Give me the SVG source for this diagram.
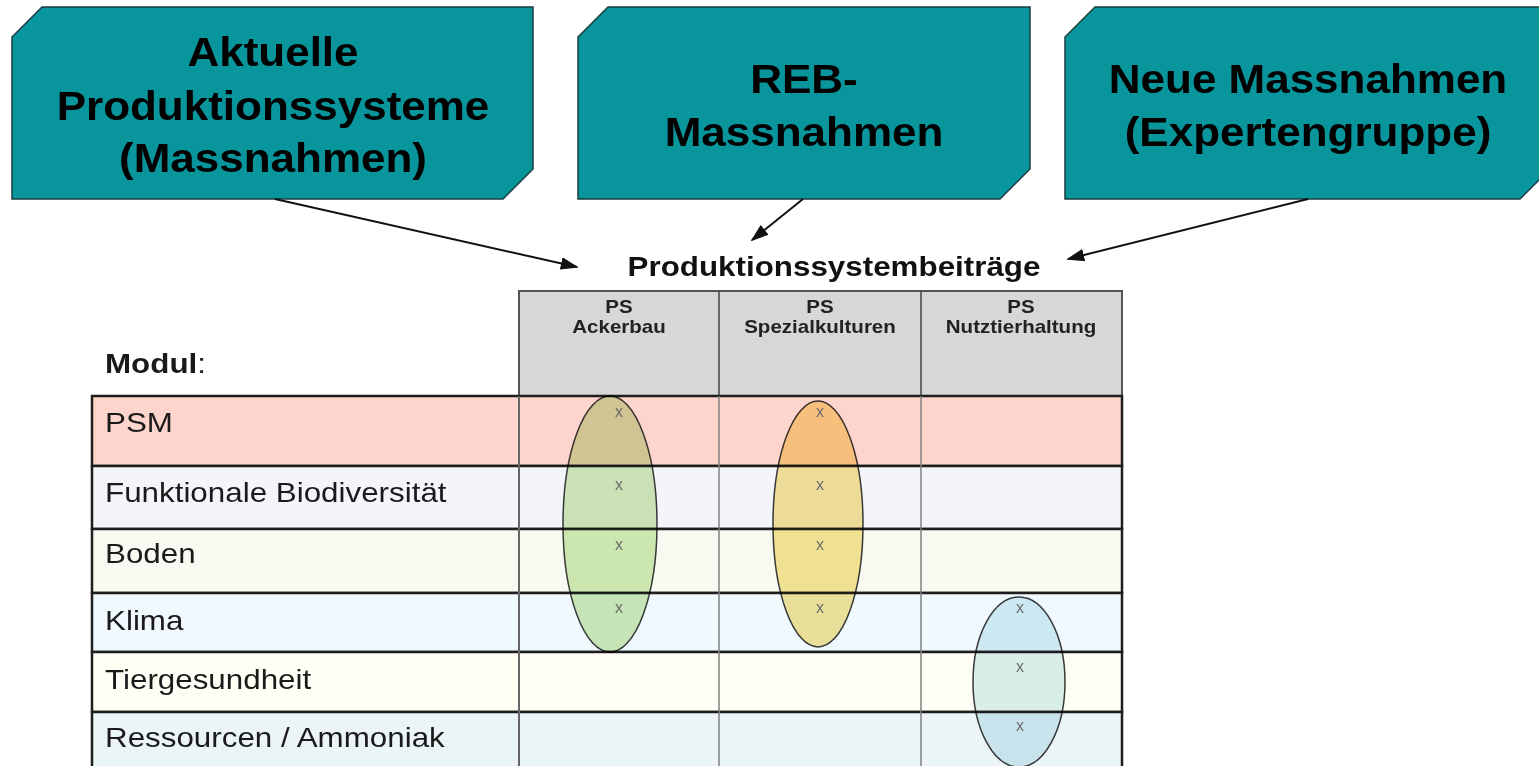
<svg xmlns="http://www.w3.org/2000/svg" width="1539" height="766" viewBox="0 0 1539 766">
<defs>
<style>
.box{fill:#08959C;stroke:#1b3d3e;stroke-width:1.5}
.bt{font-family:"Liberation Sans",Arial,sans-serif;font-weight:bold;font-size:40px;fill:#000;text-anchor:middle}
.ttl{font-family:"Liberation Sans",Arial,sans-serif;font-weight:bold;font-size:28px;fill:#111;text-anchor:middle}
.hd{font-family:"Liberation Sans",Arial,sans-serif;font-weight:bold;font-size:18px;fill:#222;text-anchor:middle}
.lbl{font-family:"Liberation Sans",Arial,sans-serif;font-size:28px;fill:#1a1a1a}
.xm{font-family:"Liberation Sans",Arial,sans-serif;font-size:16px;fill:#6b6b6b;text-anchor:middle}
.row{stroke:#1e1e1e;stroke-width:2.5}
.col{stroke:#808080;stroke-width:1.5}
.ell{stroke:#3a3a3a;stroke-width:1.5;mix-blend-mode:multiply}
.conn{stroke:#111;stroke-width:2;fill:none}
</style>
<marker id="ah" viewBox="0 0 10 7" refX="9" refY="3.5" markerWidth="9" markerHeight="6.3" orient="auto" markerUnits="strokeWidth">
<path d="M0,0 L10,3.5 L0,7 z" fill="#111"/>
</marker>
</defs>
<rect width="1539" height="766" fill="#fff"/>

<g id="node-aktuelle">
<polygon class="box" points="42,7 533,7 533,169 503,199 12,199 12,37"/>
<text class="bt" transform="translate(273,66) scale(1.1,1)">Aktuelle</text>
<text class="bt" transform="translate(273,120) scale(1.1,1)">Produktionssysteme</text>
<text class="bt" transform="translate(273,172) scale(1.1,1)">(Massnahmen)</text>
</g>
<g id="node-reb">
<polygon class="box" points="608,7 1030,7 1030,169 1000,199 578,199 578,37"/>
<text class="bt" transform="translate(804,93) scale(1.1,1)">REB-</text>
<text class="bt" transform="translate(804,146) scale(1.1,1)">Massnahmen</text>
</g>
<g id="node-neue">
<polygon class="box" points="1095,7 1550,7 1550,169 1520,199 1065,199 1065,37"/>
<text class="bt" transform="translate(1308,93) scale(1.1,1)">Neue Massnahmen</text>
<text class="bt" transform="translate(1308,146) scale(1.1,1)">(Expertengruppe)</text>
</g>

<g id="connectors">
<line class="conn" x1="275" y1="199" x2="577" y2="267" marker-end="url(#ah)"/>
<line class="conn" x1="803" y1="199" x2="752" y2="240" marker-end="url(#ah)"/>
<line class="conn" x1="1308" y1="199" x2="1068" y2="259" marker-end="url(#ah)"/>
</g>

<g id="title">
<text class="ttl" transform="translate(834,276) scale(1.12,1)">Produktionssystembeiträge</text>
</g>

<g id="table">
<rect x="519" y="291" width="603" height="105" fill="#D7D7D7" stroke="#555" stroke-width="2"/>
<line x1="719" y1="291" x2="719" y2="396" stroke="#444" stroke-width="1.5"/>
<line x1="921" y1="291" x2="921" y2="396" stroke="#444" stroke-width="1.5"/>
<text class="hd" transform="translate(619,313) scale(1.14,1)">PS</text>
<text class="hd" transform="translate(619,333) scale(1.14,1)">Ackerbau</text>
<text class="hd" transform="translate(820,313) scale(1.14,1)">PS</text>
<text class="hd" transform="translate(820,333) scale(1.14,1)">Spezialkulturen</text>
<text class="hd" transform="translate(1021,313) scale(1.14,1)">PS</text>
<text class="hd" transform="translate(1021,333) scale(1.14,1)">Nutztierhaltung</text>

<text class="lbl" transform="translate(105,373) scale(1.12,1)"><tspan font-weight="bold">Modul</tspan>:</text>

<g id="row-psm"><rect class="row" x="92" y="396" width="1030" height="70" fill="#FDD5CC"/></g>
<g id="row-bio"><rect class="row" x="92" y="466" width="1030" height="63" fill="#F4F5FB"/></g>
<g id="row-boden"><rect class="row" x="92" y="529" width="1030" height="64" fill="#F7FAF1"/></g>
<g id="row-klima"><rect class="row" x="92" y="593" width="1030" height="59" fill="#F0F9FE"/></g>
<g id="row-tier"><rect class="row" x="92" y="652" width="1030" height="60" fill="#FFFFF5"/></g>
<g id="row-ress"><rect class="row" x="92" y="712" width="1030" height="60" fill="#EBF4F7"/></g>

<line x1="519" y1="396" x2="519" y2="766" stroke="#666" stroke-width="2"/>
<line class="col" x1="719" y1="396" x2="719" y2="766"/>
<line class="col" x1="921" y1="396" x2="921" y2="766"/>

<text class="lbl" transform="translate(105,432) scale(1.12,1)">PSM</text>
<text class="lbl" transform="translate(105,502) scale(1.12,1)">Funktionale Biodiversität</text>
<text class="lbl" transform="translate(105,563) scale(1.12,1)">Boden</text>
<text class="lbl" transform="translate(105,630) scale(1.12,1)">Klima</text>
<text class="lbl" transform="translate(105,689) scale(1.12,1)">Tiergesundheit</text>
<text class="lbl" transform="translate(105,747) scale(1.12,1)">Ressourcen / Ammoniak</text>
</g>

<g id="ellipse-ackerbau">
<ellipse class="ell" cx="610" cy="524" rx="47" ry="128" fill="#D2EBB8"/>
<text class="xm" x="619" y="417">x</text>
<text class="xm" x="619" y="490">x</text>
<text class="xm" x="619" y="550">x</text>
<text class="xm" x="619" y="613">x</text>
</g>
<g id="ellipse-spezial">
<ellipse class="ell" cx="818" cy="524" rx="45" ry="123" fill="#F8E59A"/>
<text class="xm" x="820" y="417">x</text>
<text class="xm" x="820" y="490">x</text>
<text class="xm" x="820" y="550">x</text>
<text class="xm" x="820" y="613">x</text>
</g>
<g id="ellipse-nutztier">
<ellipse class="ell" cx="1019" cy="682" rx="46" ry="85" fill="#D9EEF3"/>
<text class="xm" x="1020" y="613">x</text>
<text class="xm" x="1020" y="672">x</text>
<text class="xm" x="1020" y="731">x</text>
</g>
</svg>
